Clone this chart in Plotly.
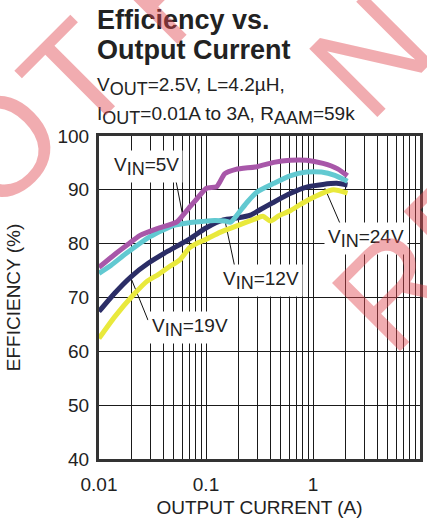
import numpy as np
import plotly.graph_objects as go

# ---------------- data ----------------
cur_5v = [0.010, 0.014, 0.019, 0.024, 0.035, 0.053, 0.061, 0.072, 0.082, 0.101, 0.126,
          0.150, 0.190, 0.300, 0.430, 0.610, 0.870, 1.24, 1.70, 2.10]
eff_5v = [75.6, 78.0, 80.0, 81.5, 82.8, 84.0, 85.3, 87.0, 88.3, 90.3, 90.6,
          93.0, 93.8, 94.3, 95.1, 95.5, 95.5, 94.9, 93.9, 92.6]

cur_12v = [0.010, 0.013, 0.018, 0.030, 0.050, 0.070, 0.090, 0.120, 0.150, 0.170, 0.200,
           0.240, 0.300, 0.430, 0.610, 0.870, 1.20, 1.60, 2.10]
eff_12v = [74.5, 76.0, 78.2, 81.3, 83.4, 83.9, 84.1, 84.3, 84.2, 84.0, 85.6,
           87.6, 89.6, 91.2, 92.6, 93.3, 93.3, 92.7, 91.6]

cur_19v = [0.010, 0.014, 0.020, 0.029, 0.044, 0.068, 0.100, 0.145, 0.200, 0.260, 0.320,
           0.420, 0.610, 0.870, 1.24, 1.67, 2.10]
eff_19v = [67.4, 70.8, 73.9, 76.4, 78.6, 80.7, 82.9, 84.4, 84.8, 85.3, 86.3,
           87.6, 89.3, 90.5, 91.0, 91.2, 90.9]

cur_24v = [0.010, 0.014, 0.021, 0.028, 0.036, 0.046, 0.057, 0.070, 0.085, 0.100, 0.135,
           0.200, 0.280, 0.340, 0.400, 0.480, 0.610, 0.750, 0.940, 1.20, 1.55, 2.10]
eff_24v = [62.4, 66.4, 70.5, 73.0, 74.3, 75.8, 77.0, 79.2, 80.2, 80.8, 82.1,
           83.4, 84.5, 85.1, 84.2, 85.2, 86.1, 87.2, 88.3, 89.3, 90.0, 89.4]

series_names = ["V<sub>IN</sub>=24V", "V<sub>IN</sub>=19V", "V<sub>IN</sub>=12V", "V<sub>IN</sub>=5V"]
series_x = [cur_24v, cur_19v, cur_12v, cur_5v]
series_y = [eff_24v, eff_19v, eff_12v, eff_5v]
series_colors = ["#E9E93C", "#2B2D66", "#62C9D1", "#A857A9"]

x_tick_vals = [0.01, 0.1, 1, 10]
x_tick_text = ["0.01", "0.1", "1", "10"]
y_tick_vals = [40, 50, 60, 70, 80, 90, 100]

# curve labels: text, label centre (A, %), leader start (A, %), leader end (A, %)
SUB = "<sub><span style='font-size:18px'>{}</span></sub>"
label_text = ["V" + SUB.format("IN") + "=5V",
              "V" + SUB.format("IN") + "=12V",
              "V" + SUB.format("IN") + "=19V",
              "V" + SUB.format("IN") + "=24V"]
label_pos = [(0.0275, 94.4), (0.327, 73.1), (0.0708, 64.5), (3.13, 80.9)]
leader_from = [(0.0513, 92.6), (0.1866, 75.5), (0.0287, 65.8), (1.83, 83.3)]
leader_to = [(0.061, 84.95), (0.1507, 84.2), (0.0199, 73.6), (1.29, 90.3)]

# ---------------- figure ----------------
W, H = 427, 518
ML, MR, MT, MB = 99, 7, 136, 59
PW, PH = W - ML - MR, H - MT - MB
FONT = "Arial, Liberation Sans, Helvetica, sans-serif"
INK = "#222222"


def px(xp, yp):
    return (xp - ML) / PW, (H - MB - yp) / PH


fig = go.Figure()

# leader lines (drawn under label boxes)
for (x0, y0), (x1, y1) in zip(leader_from, leader_to):
    fig.add_trace(go.Scatter(x=[x0, x1], y=[y0, y1], mode="lines",
                             line=dict(color="#111111", width=1),
                             showlegend=False, hoverinfo="skip"))

for name, xs, ys, col in zip(series_names, series_x, series_y, series_colors):
    fig.add_trace(go.Scatter(x=xs, y=ys, mode="lines", name=name,
                             line=dict(color=col, width=5, shape="spline", smoothing=0.6),
                             showlegend=False))

annotations = []
for txt, (lx, ly) in zip(label_text, label_pos):
    annotations.append(dict(x=np.log10(lx), y=ly, xref="x", yref="y", text=txt,
                            showarrow=False, bgcolor="white", borderpad=3,
                            xanchor="center", yanchor="middle",
                            font=dict(family=FONT, size=19, color=INK)))

# title block
for txt, ypix, size in [("<b>Efficiency vs.</b>", 20, 27),
                        ("<b>Output Current</b>", 50, 27),
                        ("V" + SUB.format("OUT") + "=2.5V, L=4.2µH,", 86, 19),
                        ("I" + SUB.format("OUT") + "=0.01A to 3A, R" + SUB.format("AAM") + "=59k", 116, 19)]:
    xp, yp = px(95, ypix)
    annotations.append(dict(x=xp, y=yp, xref="paper", yref="paper", text=txt,
                            showarrow=False, xanchor="left", yanchor="middle",
                            font=dict(family=FONT, size=size, color=INK)))

# watermark letters
WM = "rgba(224,70,80,0.45)"
for letter, xpix, ypix in [("O", 0, 147), ("T", 76, 76), ("R", 170, -18),
                           ("N", 370, 55), ("RE", 426, 256)]:
    xp, yp = px(xpix, ypix)
    annotations.append(dict(x=xp, y=yp, xref="paper", yref="paper", text=letter,
                            showarrow=False, textangle=-45,
                            xanchor="center", yanchor="middle",
                            font=dict(family=FONT, size=140, color=WM)))

fig.update_layout(
    width=W, height=H,
    margin=dict(l=ML, r=MR, t=MT, b=MB, pad=0),
    paper_bgcolor="white", plot_bgcolor="white",
    font=dict(family=FONT, size=19, color=INK),
    annotations=annotations,
    showlegend=False,
)

fig.update_xaxes(type="log", range=[-2, 1], tickvals=x_tick_vals, ticktext=x_tick_text,
                 showgrid=True, gridcolor="#1a1a1a", gridwidth=1.3,
                 minor=dict(tickvals=[m * 10 ** e for e in (-2, -1, 0) for m in range(2, 10)],
                            showgrid=True, gridcolor="#1a1a1a", gridwidth=1.3, ticks=""),
                 showline=True, mirror=True, linecolor="#333333", linewidth=3,
                 ticks="", ticklabelstandoff=6, automargin=False, zeroline=False,
                 tickfont=dict(size=19, color=INK),
                 title=dict(text="OUTPUT CURRENT (A)", standoff=10,
                            font=dict(size=19, color=INK)))
fig.update_yaxes(range=[40, 100], tickvals=y_tick_vals,
                 showgrid=True, gridcolor="#1a1a1a", gridwidth=1.3,
                 showline=True, mirror=True, linecolor="#333333", linewidth=3,
                 ticks="", ticklabelstandoff=3, automargin=False, zeroline=False,
                 tickfont=dict(size=19, color=INK),
                 title=dict(text="EFFICIENCY (%)", standoff=32,
                            font=dict(size=19, color=INK)))

fig.write_html("out.html", config={"displayModeBar": False},
               post_script="document.body.style.margin='0';")
